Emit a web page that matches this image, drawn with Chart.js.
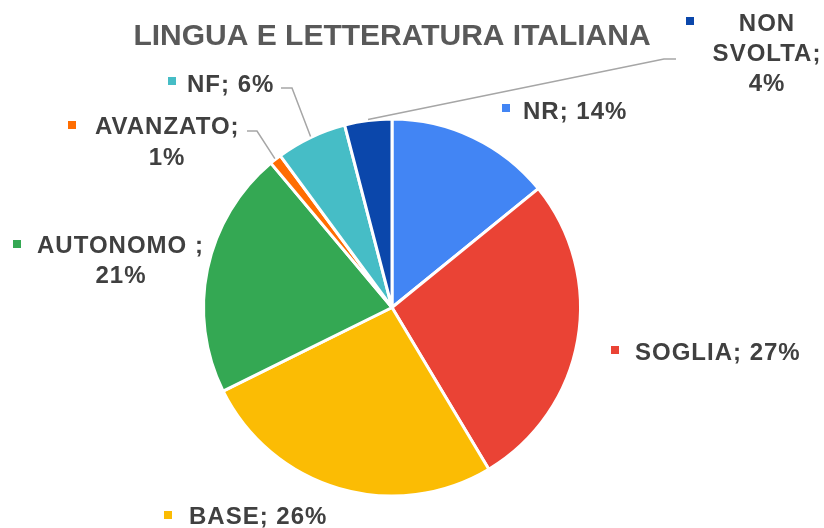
<!DOCTYPE html>
<html>
<head>
<meta charset="utf-8">
<script src="https://cdn.jsdelivr.net/npm/chart.js@4"></script>
<style>
html,body{margin:0;padding:0;background:#fff;}
#wrap{width:824px;height:528px;position:relative;}
</style>
</head>
<body>
<div id="wrap"><canvas id="c" width="824" height="528"></canvas></div>
<script>
const title = "LINGUA E LETTERATURA ITALIANA";
const categories = ["NR", "SOGLIA", "BASE", "AUTONOMO ", "AVANZATO", "NF", "NON SVOLTA"];
const values = [14, 27, 26, 21, 1, 6, 4];
const colors = ["#4285F4", "#EA4335", "#FBBC04", "#34A853", "#FF6D01", "#46BDC6", "#0B47AB"];

// label layout (text placement only)
const labelLayout = [
  {lines:[{t:0,x:523,y:119,align:'left'}], marker:[502,104]},
  {lines:[{t:0,x:635,y:360,align:'left'}], marker:[611,346]},
  {lines:[{t:0,x:189,y:524,align:'left'}], marker:[164,511]},
  {lines:[{t:1,x:37,y:253,align:'left'},{t:2,x:121,y:283,align:'center'}], marker:[13,240]},
  {lines:[{t:1,x:95,y:134,align:'left'},{t:2,x:167,y:165,align:'center'}], marker:[68,121], leader:[[247,131],[257,131]]},
  {lines:[{t:0,x:187,y:92,align:'left'}], marker:[168,77], leader:[[281,88],[292,88]]},
  {lines:[{t:3,x:767,y:31,align:'center'},{t:4,x:767,y:61,align:'center'},{t:2,x:767,y:91,align:'center'}], marker:[686,17], leader:[[676,59],[664,59]]}
];

function labelParts(i){
  const name = categories[i];
  const pct = values[i] + "%";
  const words = name.trim().split(" ");
  return {
    0: name + "; " + pct,
    1: name + ";",
    2: pct,
    3: words[0],
    4: (words[1]||"") + ";"
  };
}

const labelsPlugin = {
  id: 'labelsPlugin',
  afterDraw(chart){
    const ctx = chart.ctx;
    ctx.save();
    // title
    ctx.font = "bold 30px 'Liberation Sans', Arial, sans-serif";
    ctx.fillStyle = "#595959";
    ctx.textAlign = "center";
    ctx.textBaseline = "alphabetic";
    ctx.fillText(title, 392, 45);

    const meta = chart.getDatasetMeta(0);
    meta.data.forEach((arc, i) => {
      const L = labelLayout[i];
      const parts = labelParts(i);
      // leader line
      if (L.leader){
        const mid = (arc.startAngle + arc.endAngle)/2;
        const r = arc.outerRadius + 1;
        const px = arc.x + Math.cos(mid)*r;
        const py = arc.y + Math.sin(mid)*r;
        ctx.strokeStyle = "#a6a6a6";
        ctx.lineWidth = 1.5;
        ctx.beginPath();
        ctx.moveTo(L.leader[0][0], L.leader[0][1]);
        ctx.lineTo(L.leader[1][0], L.leader[1][1]);
        ctx.lineTo(px, py);
        ctx.stroke();
      }
      // marker
      ctx.fillStyle = colors[i];
      ctx.fillRect(L.marker[0], L.marker[1], 8, 8);
      // text
      ctx.font = "bold 24px 'Liberation Sans', Arial, sans-serif";
      ctx.fillStyle = "#404040";
      ctx.letterSpacing = "1px";
      L.lines.forEach(ln => {
        ctx.textAlign = ln.align;
        ctx.fillText(parts[ln.t], ln.x, ln.y);
      });
      ctx.letterSpacing = "0px";
    });
    ctx.restore();
  }
};

new Chart(document.getElementById('c'), {
  type: 'pie',
  data: {
    labels: categories,
    datasets: [{
      data: values,
      backgroundColor: colors,
      borderColor: "#ffffff",
      borderWidth: 3
    }]
  },
  options: {
    responsive: false,
    animation: false,
    layout: {padding: {top: 117, bottom: 30, left: 202, right: 242}},
    plugins: {
      legend: {display: false},
      title: {display: false},
      tooltip: {enabled: false}
    }
  },
  plugins: [labelsPlugin]
});
</script>
</body>
</html>
